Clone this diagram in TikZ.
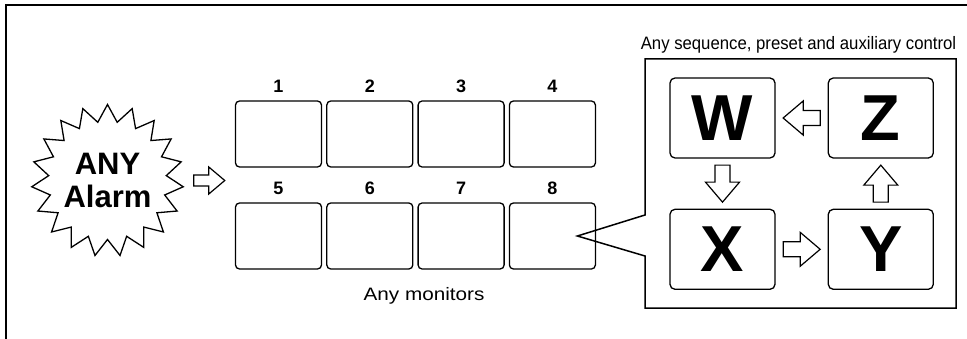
\documentclass[tikz,border=0pt]{standalone}
\usepackage{fontspec}
\usepackage{graphicx}
\setmainfont{Liberation Sans}
\usetikzlibrary{calc,positioning}
\newcommand\numfont{\fontsize{18}{20}\selectfont\bfseries}
\newcommand\bigfont{\fontsize{65}{70}\selectfont\bfseries}
\newcommand\alarmfont{\fontsize{31}{33}\selectfont\bfseries}
\newcommand\capfont{\fontsize{18}{20}\selectfont}
\tikzset{
  monitor/.style={draw, rounded corners=4pt, line width=1.3pt, minimum width=86pt, minimum height=66pt, inner sep=0pt},
  numlabel/.style={font=\numfont, inner sep=0pt},
  panel/.style={draw, rounded corners=5pt, line width=1.3pt, minimum width=105pt, minimum height=80pt, inner sep=0pt, font=\bigfont},
  arrowline/.style={draw, line width=1.2pt, fill=white, line join=miter},
  pics/fatarrow/.style n args={4}{code={
    \path[arrowline] ({-#1/2},{-#3}) -- ({#1/2-#2},{-#3}) -- ({#1/2-#2},{-#4}) -- ({#1/2},0) -- ({#1/2-#2},{#4}) -- ({#1/2-#2},{#3}) -- ({-#1/2},{#3}) -- cycle;
  }}
}
\begin{document}
\begin{tikzpicture}[x=1pt,y=-1pt]
\useasboundingbox (0,0) rectangle (967,339);
% frame
\draw[line width=2pt] (967,5.5) -- (5.5,5.5) -- (5.5,339);

% alarm burst
\node[circle, minimum size=152pt, inner sep=0pt, align=center, font=\alarmfont] (alarm) at (107.5,180.5) {ANY\\Alarm};
\draw[line width=1.3pt, line join=miter] ($(alarm.center)+(270:76)$)
  \foreach \k in {1,...,37} { -- ($(alarm.center)+({270+\k*360/38}:{67.5+8.5*cos(180*\k)})$) } -- cycle;

% monitors
\foreach \i in {1,...,4} {
  \pgfmathtruncatemacro\j{\i+4}
  \node[monitor] (m\i) at ({278.5+91.3*(\i-1)},134) {};
  \node[monitor] (m\j) at ({278.5+91.3*(\i-1)},236) {};
  \node[numlabel, above=7.5pt of m\i] (n\i) {\i};
  \node[numlabel, above=7.5pt of m\j] (n\j) {\j};
}
\node[font=\capfont, anchor=base] (anymon) at (424,300.5) {\scalebox{1.15}[1]{Any monitors}};

\pic at ($(alarm.east)!0.5!(m5.west |- alarm.east)$) {fatarrow={31}{16}{5.5}{13.5}};

% callout
\coordinate (tip) at ($(m8.center)+(25,0)$);
\draw[line width=1.5pt, line join=miter] (645,215) -- (tip) -- (645,256) -- (645,308) -- (956,308) -- (956,59) -- (645,59) -- cycle;
\node[font=\capfont, anchor=base] (ctitle) at (798.5,50) {\scalebox{0.93}[1]{Any sequence, preset and auxiliary control}};

\node[panel] (pw) at (722.5,118) {W};
\node[panel, right=52pt of pw] (pz) {Z};
\node[panel, below=50pt of pw] (px) {X};
\node[panel, right=52pt of px] (py) {Y};

\pic[rotate=180] at ($(pw.east)!0.5!(pz.west)$) {fatarrow={37}{20}{7.5}{17}};
\pic[rotate=-90] at ($(pw.south)!0.5!(px.north)$) {fatarrow={37}{20}{7.5}{17}};
\pic at ($(px.east)!0.5!(py.west)$) {fatarrow={37}{20}{7.5}{17}};
\pic[rotate=90] at ($(py.north)!0.5!(pz.south)$) {fatarrow={37}{20}{7.5}{17}};
\end{tikzpicture}
\end{document}
